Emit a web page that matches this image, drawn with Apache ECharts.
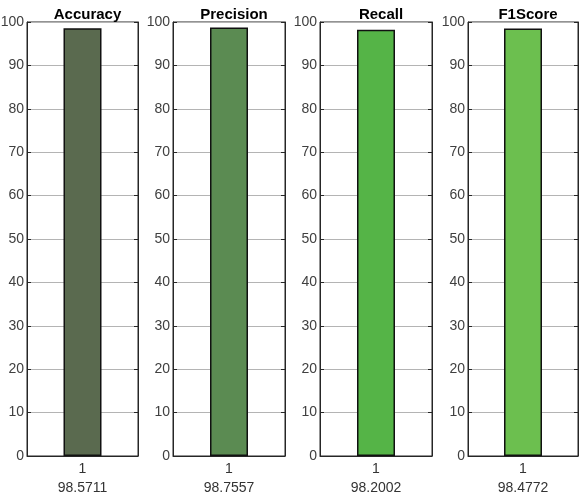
<!DOCTYPE html>
<html>
<head>
<meta charset="utf-8">
<script src="https://cdn.jsdelivr.net/npm/echarts@6/dist/echarts.min.js"></script>
<style>
  html, body { margin: 0; padding: 0; background: #fff; }
  #main { width: 583px; height: 495px; }
</style>
</head>
<body>
<div id="main"></div>
<script>
// data
const metrics = ["Accuracy", "Precision", "Recall", "F1Score"];
const categories = ["1"];
const values = [98.5711, 98.7557, 98.2002, 98.4772];
const barColors = ["#5a6a4f", "#5b8b52", "#55b447", "#6cbf4f"];
const yTicks = { min: 0, max: 100, interval: 10 };

// panel placement
const panelLeft = [27, 173, 320, 468];
const panelWidth = [111, 112, 112, 110];
const gridTop = 22, gridHeight = 434;
const font = "Liberation Sans";

let chart = echarts.init(document.getElementById("main"));

let grid = [], xAxis = [], yAxis = [], series = [], title = [];
metrics.forEach(function (name, i) {
  grid.push({
    left: panelLeft[i], width: panelWidth[i], top: gridTop, height: gridHeight,
    outerBoundsMode: "none",
    show: true, borderColor: "#262626", borderWidth: 1, backgroundColor: "#fff"
  });
  title.push({
    text: name,
    left: panelLeft[i] + panelWidth[i] / 2,
    top: 2,
    textAlign: "center",
    textStyle: { fontFamily: font, fontSize: 15, fontWeight: "bold", color: "#000" }
  });
  // bottom x axis, label shows the value under the tick label
  xAxis.push({
    gridIndex: i, type: "category", data: categories, position: "bottom",
    axisLine: { lineStyle: { color: "#262626" } },
    axisTick: { inside: true, alignWithLabel: true, length: 4, lineStyle: { color: "#262626" } },
    axisLabel: {
      fontFamily: font, fontSize: 14, color: "#333", margin: 4, lineHeight: 19,
      formatter: function (v) { return v + "\n" + values[i].toFixed(4); }
    }
  });
  // top x axis (box ticks)
  xAxis.push({
    gridIndex: i, type: "category", data: categories, position: "top",
    axisLine: { show: false },
    axisTick: { inside: true, alignWithLabel: true, length: 4, lineStyle: { color: "#262626" } },
    axisLabel: { show: false }
  });
  yAxis.push({
    gridIndex: i, type: "value", min: yTicks.min, max: yTicks.max, interval: yTicks.interval,
    position: "left",
    axisLine: { show: true, lineStyle: { color: "#262626" } },
    axisTick: { show: true, inside: true, length: 4, lineStyle: { color: "#262626" } },
    axisLabel: { fontFamily: font, fontSize: 14, color: "#404040", margin: 3 },
    splitLine: { show: true, lineStyle: { color: "#b4b4b4", width: 1 } }
  });
  yAxis.push({
    gridIndex: i, type: "value", min: yTicks.min, max: yTicks.max, interval: yTicks.interval,
    position: "right",
    axisLine: { show: true, lineStyle: { color: "#262626" } },
    axisTick: { show: true, inside: true, length: 4, lineStyle: { color: "#262626" } },
    axisLabel: { show: false },
    splitLine: { show: false }
  });
  series.push({
    name: name, type: "bar",
    xAxisIndex: i * 2, yAxisIndex: i * 2,
    data: [values[i]],
    barWidth: 38,
    itemStyle: { color: barColors[i], borderColor: "#111", borderWidth: 1.5 },
    z: 3
  });
});

chart.setOption({
  animation: false,
  title: title,
  grid: grid,
  xAxis: xAxis,
  yAxis: yAxis,
  series: series
});
</script>
</body>
</html>
